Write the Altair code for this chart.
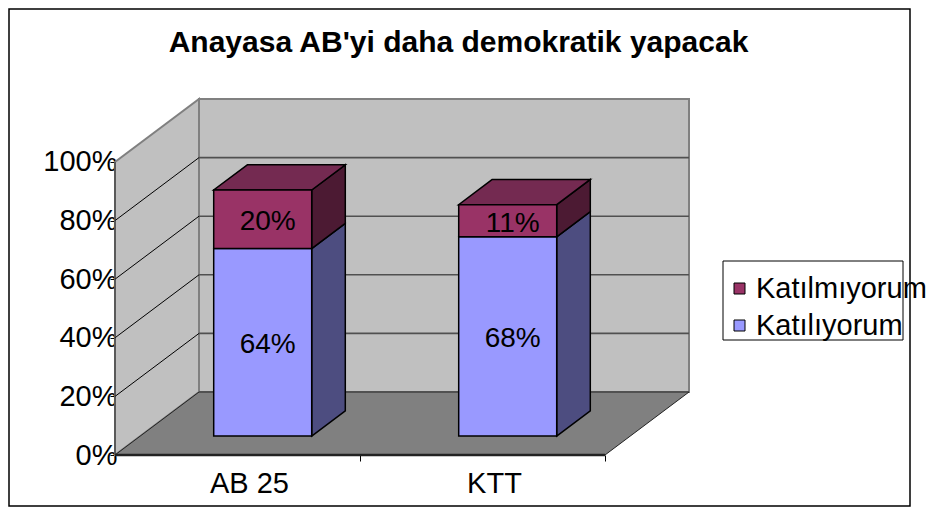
import altair as alt
import pandas as pd

# ---------------- data ----------------
categories = ["AB 25", "KTT"]
katiliyorum = [64, 68]
katilmiyorum = [20, 11]
y_ticks = [0, 20, 40, 60, 80, 100]
legend_order = ["Katılmıyorum", "Katılıyorum"]
title_text = ["Anayasa AB'yi daha demokratik yapacak"]

# ---------------- style / geometry of the oblique 3D look ----------------
FONT = "Liberation Sans"
BAND = 245.0        # x units per category on the floor
BAR_FRAC = 0.4      # bar width as part of band
DX = 84.0           # x shift of full depth
DY = 21.5           # y shift of full depth (percent units)
D0, D1 = 0.3, 0.7   # depth range occupied by the bars
XMAX = 2 * BAND + DX
YMAX = 100 + DY
W, H = 574, 356

colors = {
    "Katılıyorum": {"front": "#9999FF", "top": "#7A7ACC", "side": "#4D4D80"},
    "Katılmıyorum": {"front": "#993366", "top": "#742A51", "side": "#4C1A33"},
}

xs = alt.Scale(domain=[0, XMAX], nice=False, zero=False)
ys = alt.Scale(domain=[0, YMAX], nice=False, zero=False)
xa = alt.Axis(values=[0, BAND, 2 * BAND], labels=False, domain=False, grid=False,
              tickSize=6, tickColor="black", tickWidth=1, title=None)
ya = alt.Axis(values=y_ticks, labelExpr="datum.value + '%'", title=None, domain=False,
              grid=False, tickSize=5, tickColor="black", tickWidth=1,
              labelFontSize=29, labelColor="black", labelFont=FONT, labelPadding=-7)


def X(field):
    return alt.X(field, type="quantitative", scale=xs, axis=xa)


def Y(field):
    return alt.Y(field, type="quantitative", scale=ys, axis=ya)


# ---------------- build faces from values ----------------
front_rows, side_rows, top_rows, label_rows, cat_rows = [], [], [], [], []
for i, cat in enumerate(categories):
    x0 = BAND * (i + 0.5) - BAND * BAR_FRAC / 2
    x1 = x0 + BAND * BAR_FRAC
    cat_rows.append({"cx": BAND * (i + 0.5), "cat": cat})
    lo = 0.0
    last = None
    for s, vals in [("Katılıyorum", katiliyorum), ("Katılmıyorum", katilmiyorum)]:
        v = vals[i]
        hi = lo + v
        front_rows.append({"x": x0 + D0 * DX, "x2": x1 + D0 * DX,
                           "y": lo + D0 * DY, "y2": hi + D0 * DY, "series": s})
        face = f"{cat}-{s}"
        for d in (D0, D1):
            side_rows.append({"face": face, "x": x1 + d * DX, "y": lo + d * DY,
                              "y2": hi + d * DY, "fill": colors[s]["side"]})
        label_rows.append({"x": (x0 + x1) / 2 + D0 * DX,
                           "y": (lo + hi) / 2 + D0 * DY, "text": f"{v}%"})
        lo = hi
        last = s
    for d in (D0, D1):
        top_rows.append({"face": cat, "y": lo + d * DY, "x": x0 + d * DX,
                         "x2": x1 + d * DX, "fill": colors[last]["top"]})

front_df = pd.DataFrame(front_rows)
side_df = pd.DataFrame(side_rows)
top_df = pd.DataFrame(top_rows)
label_df = pd.DataFrame(label_rows)
cat_df = pd.DataFrame(cat_rows)
title_df = pd.DataFrame({"t": title_text})

back_df = pd.DataFrame([{"x": DX, "x2": DX + 2 * BAND, "y": DY, "y2": DY + 100}])
left_df = pd.DataFrame([{"x": 0.0, "y": 0.0, "y2": 100.0},
                        {"x": DX, "y": DY, "y2": DY + 100}])
floor_df = pd.DataFrame([{"y": 0.0, "x": 0.0, "x2": 2 * BAND},
                         {"y": DY, "x": DX, "x2": DX + 2 * BAND}])
grid_v = [v for v in y_ticks if 0 < v < 100]
back_grid_df = pd.DataFrame([{"x": DX, "x2": DX + 2 * BAND, "y": v + DY, "y2": v + DY}
                             for v in grid_v])
left_grid_df = pd.DataFrame([{"x": 0.0, "x2": DX, "y": float(v), "y2": v + DY}
                             for v in grid_v])
front_edge_df = pd.DataFrame([{"x": 0.0, "x2": 2 * BAND, "y": 0.0, "y2": 0.0}])
left_edge_df = pd.DataFrame([{"x": 0.0, "x2": 0.0, "y": 0.0, "y2": 100.0}])

# ---------------- layers ----------------
back = alt.Chart(back_df).mark_rect(fill="#C0C0C0", stroke="#808080", strokeWidth=2).encode(
    x=X("x"), x2="x2", y=Y("y"), y2="y2")

left_wall = alt.Chart(left_df).mark_area(fill="#C0C0C0", stroke="#808080", strokeWidth=2).encode(
    x=X("x"), y=Y("y"), y2="y2")

floor = alt.Chart(floor_df).mark_area(orient="horizontal", fill="#808080",
                                      stroke="#222222", strokeWidth=1).encode(
    y=Y("y"), x=X("x"), x2="x2")

back_grid = alt.Chart(back_grid_df).mark_rule(color="#505050", strokeWidth=1.6).encode(
    x=X("x"), x2="x2", y=Y("y"), y2="y2")

left_grid = alt.Chart(left_grid_df).mark_rule(color="black", strokeWidth=1).encode(
    x=X("x"), x2="x2", y=Y("y"), y2="y2")

left_edge = alt.Chart(left_edge_df).mark_rule(color="#333333", strokeWidth=1).encode(
    x=X("x"), x2="x2", y=Y("y"), y2="y2")

front_edge = alt.Chart(front_edge_df).mark_rule(color="#222222", strokeWidth=2.5).encode(
    x=X("x"), x2="x2", y=Y("y"), y2="y2")

sides = alt.Chart(side_df).mark_area(stroke="black", strokeWidth=1.5).encode(
    x=X("x"), y=Y("y"), y2="y2",
    detail="face:N", color=alt.Color("fill:N", scale=None))

tops = alt.Chart(top_df).mark_area(orient="horizontal", stroke="black", strokeWidth=1.5).encode(
    y=Y("y"), x=X("x"), x2="x2",
    detail="face:N", color=alt.Color("fill:N", scale=None))

fronts = alt.Chart(front_df).mark_rect(stroke="black", strokeWidth=1.5).encode(
    x=X("x"), x2="x2", y=Y("y"), y2="y2",
    fill=alt.Fill("series:N",
                  scale=alt.Scale(domain=legend_order,
                                  range=[colors[s]["front"] for s in legend_order]),
                  legend=alt.Legend(title=None, orient="none", legendX=603, legendY=168,
                                    strokeColor="transparent", padding=7,
                                    labelFontSize=29, labelFont=FONT, labelColor="black",
                                    labelLimit=400,
                                    symbolType="square", symbolSize=121,
                                    symbolStrokeColor="black", symbolStrokeWidth=1,
                                    labelOffset=2, rowPadding=7)))

labels = alt.Chart(label_df).mark_text(fontSize=28, font=FONT, color="black",
                                       baseline="middle", dx=5, dy=3).encode(
    x=X("x"), y=Y("y"), text="text:N")

cat_labels = alt.Chart(cat_df).mark_text(fontSize=29, font=FONT, color="black",
                                         baseline="alphabetic", dx=12).encode(
    x=X("cx"), y=alt.value(H + 38), text="cat:N")

title = alt.Chart(title_df).mark_text(fontSize=30, font=FONT, fontWeight="bold",
                                      color="black", baseline="alphabetic",
                                      align="center").encode(
    x=alt.value(343.5), y=alt.value(-47), text="t:N")

# legend frame (as in the reference, the long label runs past it)
legend_box = alt.Chart(back_df).mark_rect(fill="white", stroke="black", strokeWidth=1).encode(
    x=alt.value(608), x2=alt.value(788), y=alt.value(162), y2=alt.value(241))

border = alt.Chart(back_df).mark_rect(fill="transparent", stroke="black", strokeWidth=1.5).encode(
    x=alt.value(-106), x2=alt.value(795), y=alt.value(-90), y2=alt.value(407))

chart = alt.layer(
    back, left_wall, floor, back_grid, left_grid, left_edge, front_edge,
    sides, tops, legend_box, fronts, labels, cat_labels, title, border,
).properties(
    width=W, height=H,
    padding={"left": 107, "top": 91, "right": 238, "bottom": 53},
    autosize=alt.AutoSizeParams(type="none"),
    background="white",
).configure_view(strokeWidth=0)

chart.save("out.html", embed_options={"renderer": "svg", "actions": False})
